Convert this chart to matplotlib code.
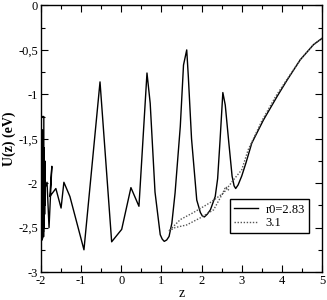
import matplotlib
matplotlib.use("Agg")
import matplotlib.pyplot as plt
from matplotlib.ticker import MultipleLocator, FixedLocator

plt.rcParams['font.family'] = ['Liberation Serif', 'DejaVu Serif']

# r0 = 2.83 (solid)
z_a = [-2.00, -1.93, -1.93, -1.975, -1.97, -1.965, -1.96, -1.955, -1.95, -1.945,
       -1.94, -1.935, -1.93, -1.925, -1.92, -1.915, -1.91, -1.905, -1.90, -1.895,
       -1.85, -1.80, -1.73, -1.78, -1.63, -1.50,
       -1.43, -1.28, -0.93, -0.53, -0.24, 0.01, 0.24, 0.44, 0.64, 0.72,
       0.84, 0.97, 1.02, 1.07, 1.13, 1.19, 1.26, 1.34, 1.47, 1.55, 1.63, 1.67,
       1.75, 1.88, 1.97, 2.02, 2.07, 2.14, 2.22, 2.34, 2.40, 2.46, 2.53, 2.59, 2.68,
       2.76, 2.81, 2.85, 2.91, 3.00, 3.10, 3.25, 3.54, 3.88, 4.13, 4.46,
       4.79, 5.00]
u_a = [-1.25, -1.25, -2.60, -1.45, -2.64, -1.40, -2.62, -1.55, -2.58, -1.50,
       -2.55, -1.70, -2.50, -1.60, -2.45, -1.80, -2.35, -1.75, -2.25, -2.05,
       -1.99, -2.50, -1.81, -2.15, -2.06, -2.28,
       -1.99, -2.15, -2.75, -0.86, -2.66, -2.52, -2.05, -2.26, -0.76, -1.10,
       -2.10, -2.58, -2.63, -2.655, -2.64, -2.60, -2.45, -2.11, -1.36, -0.67, -0.50, -0.80,
       -1.50, -2.19, -2.33, -2.37, -2.38, -2.35, -2.30, -2.15, -1.95, -1.52, -0.98, -1.12, -1.55,
       -1.92, -2.03, -2.06, -2.02, -1.92, -1.78, -1.55, -1.29, -1.025, -0.84, -0.61,
       -0.44, -0.37]

# r0 = 3.1 (dotted)
z_b = [2.68, 2.60, 2.52, 2.30, 1.97, 1.63, 1.34, 1.18,
       1.47, 1.80, 2.21, 2.55, 2.80, 3.00, 3.16, 3.50, 3.85, 4.13, 4.46, 4.79, 5.00]
u_b = [-2.08, -2.04, -2.12, -2.30, -2.39, -2.47, -2.50, -2.54,
       -2.41, -2.33, -2.22, -2.11, -1.96, -1.85, -1.625, -1.30, -1.02, -0.83, -0.61, -0.44, -0.37]

labels = ["r0=2.83", "3.1"]
xticks = [-2, -1, 0, 1, 2, 3, 4, 5]
yticks = [0, -0.5, -1, -1.5, -2, -2.5, -3]
yticklabels = ["0", "-0,5", "-1", "-1,5", "-2", "-2,5", "-3"]
xticklabels = ["-2", "-1", "0", "1", "2", "3", "4", "5"]

fig = plt.figure(figsize=(3.27, 3.0), dpi=100)
ax = fig.add_axes([0.1254, 0.0933, 0.8593, 0.8884])

ax.plot(z_a, u_a, color='black', lw=1.0, label=labels[0])
ax.plot(z_b, u_b, color='#555555', lw=1.0, ls=(0, (1, 1.2)), label=labels[1])

ax.set_xlim(-2, 5)
ax.set_ylim(-3, 0)
ax.xaxis.set_major_locator(FixedLocator(xticks))
ax.set_xticklabels(xticklabels)
ax.xaxis.set_minor_locator(MultipleLocator(0.5))
ax.yaxis.set_major_locator(FixedLocator(yticks))
ax.set_yticklabels(yticklabels)
ax.yaxis.set_minor_locator(MultipleLocator(0.25))
ax.tick_params(which='both', direction='in', top=True, right=True, labelsize=9, pad=2)
ax.tick_params(which='major', length=5, width=0.8)
ax.tick_params(which='minor', length=3, width=0.8)
for s in ax.spines.values():
    s.set_linewidth(1.0)

ax.set_xlabel('z', fontsize=10, labelpad=0)
ax.set_ylabel('U(z) (eV)', fontsize=10, fontweight='bold', labelpad=2)

leg = ax.legend(loc='lower right', bbox_to_anchor=(0.955, 0.145), fontsize=9,
                frameon=True, fancybox=False, edgecolor='black', framealpha=1,
                handlelength=1.9, handletextpad=0.6, borderpad=0.35, labelspacing=0.1,
                borderaxespad=0)
leg.get_frame().set_linewidth(1.0)

fig.savefig('out.png', dpi=100)
